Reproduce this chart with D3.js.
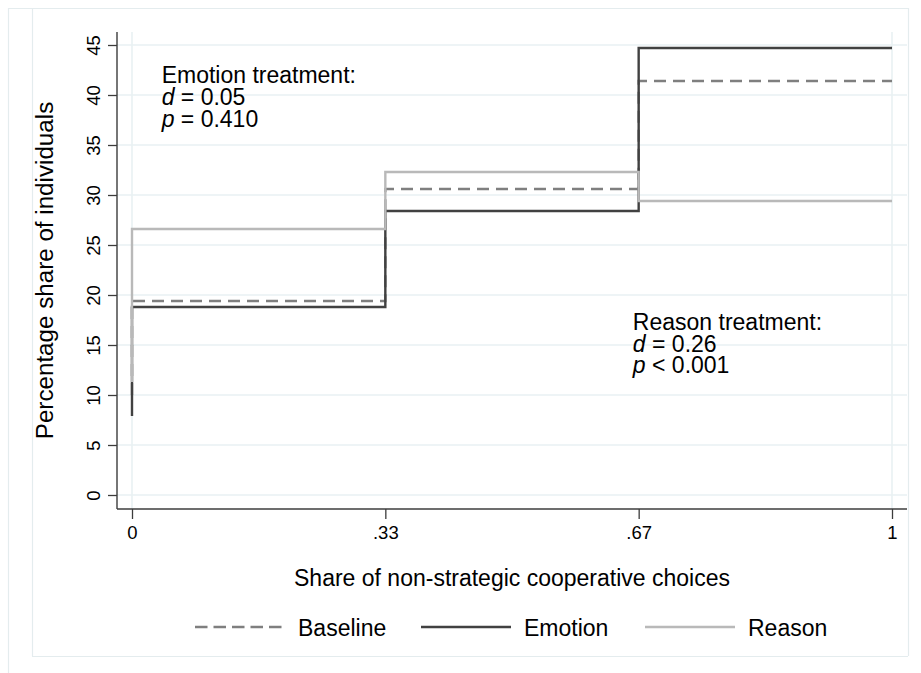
<!DOCTYPE html>
<html>
<head>
<meta charset="utf-8">
<script src="https://cdn.jsdelivr.net/npm/d3@7"></script>
<style>
  html, body { margin: 0; padding: 0; background: #fff; }
  svg { display: block; font-family: "Liberation Sans", Arial, Helvetica, sans-serif; }
</style>
</head>
<body>
<svg id="chart" width="921" height="673"></svg>
<script>
// ---- data ----
const xValues = [0, 0, 1/3, 2/3, 1];          // step positions (first point = start of vertical at 0)
const xTickValues = [0, 1/3, 2/3, 1];
const xTickLabels = ["0", ".33", ".67", "1"];
const yTickValues = [0, 5, 10, 15, 20, 25, 30, 35, 40, 45];
const seriesNames = ["Baseline", "Emotion", "Reason"];
const baselineValues = [10.0, 19.4, 30.6, 41.4, 41.4];
const emotionValues  = [7.9, 18.8, 28.4, 44.7, 44.7];
const reasonValues   = [11.3, 26.6, 32.3, 29.4, 29.4];
const emotionNote = ["Emotion treatment:", "d = 0.05", "p = 0.410"];
const reasonNote  = ["Reason treatment:", "d = 0.26", "p < 0.001"];
const xTitle = "Share of non-strategic cooperative choices";
const yTitle = "Percentage share of individuals";

// ---- layout ----
const svg = d3.select("#chart");
const FONT_BIG = 23, FONT_TICK = 18.5;
const plot = { left: 117, right: 907, top: 32, bottom: 509 };
const x = d3.scaleLinear().domain([0, 1]).range([132, 892]);
const y = d3.scaleLinear().domain([0, 45]).range([495, 45]);
const frameColor = "#e4ecee";
const gridColor = "#e9f1f3";
const axisColor = "#3c3c3c";

// frames
const frames = svg.append("g").attr("fill", "none").attr("stroke", frameColor).attr("stroke-width", 1.2);
frames.append("line").attr("x1", 8).attr("x2", 909).attr("y1", 8.5).attr("y2", 8.5);
frames.append("line").attr("x1", 8.5).attr("x2", 8.5).attr("y1", 8).attr("y2", 673);
frames.append("line").attr("x1", 32.5).attr("x2", 32.5).attr("y1", 8).attr("y2", 656);
frames.append("line").attr("x1", 32).attr("x2", 908).attr("y1", 656.5).attr("y2", 656.5);
frames.append("line").attr("x1", 908.5).attr("x2", 908.5).attr("y1", 8).attr("y2", 656);

// grid
const grid = svg.append("g").attr("stroke", gridColor).attr("stroke-width", 1.6);
grid.selectAll("line.h").data(yTickValues).join("line")
  .attr("x1", plot.left).attr("x2", plot.right)
  .attr("y1", d => y(d)).attr("y2", d => y(d));
grid.selectAll("line.v").data([0, 1]).join("line")
  .attr("x1", d => x(d)).attr("x2", d => x(d))
  .attr("y1", plot.top).attr("y2", plot.bottom);

// axes
const yAxis = d3.axisLeft(y).tickValues(yTickValues).tickSize(9).tickSizeOuter(0).tickPadding(8);
const gy = svg.append("g").attr("transform", `translate(${plot.left},0)`).call(yAxis);
gy.select(".domain").remove();
gy.selectAll(".tick line").attr("stroke", axisColor).attr("stroke-width", 1.3);
gy.selectAll(".tick text")
  .attr("x", null).attr("dy", null)
  .attr("font-size", FONT_TICK).attr("fill", "#000")
  .attr("text-anchor", "middle")
  .attr("transform", "translate(-17,0) rotate(-90)");

const xAxis = d3.axisBottom(x).tickValues(xTickValues).tickFormat((d, i) => xTickLabels[i])
  .tickSize(10).tickSizeOuter(0).tickPadding(7);
const gx = svg.append("g").attr("transform", `translate(0,${plot.bottom})`).call(xAxis);
gx.select(".domain").remove();
gx.selectAll(".tick line").attr("stroke", axisColor).attr("stroke-width", 1.3);
gx.selectAll(".tick text").attr("font-size", FONT_TICK).attr("fill", "#000");

// axis lines
svg.append("line").attr("x1", plot.left).attr("x2", plot.left).attr("y1", plot.top).attr("y2", plot.bottom)
  .attr("stroke", axisColor).attr("stroke-width", 1.4);
svg.append("line").attr("x1", plot.left).attr("x2", plot.right).attr("y1", plot.bottom).attr("y2", plot.bottom)
  .attr("stroke", axisColor).attr("stroke-width", 1.4);

// series
const styles = {
  Baseline: { color: "#7f7f7f", dash: "12,7", values: baselineValues },
  Emotion:  { color: "#414141", dash: null,   values: emotionValues },
  Reason:   { color: "#b9b9b9", dash: null,   values: reasonValues }
};
const line = d3.line().x(d => x(d[0])).y(d => y(d[1])).curve(d3.curveStepAfter);
seriesNames.forEach(name => {
  const s = styles[name];
  const pts = xValues.map((xv, i) => [xv, s.values[i]]);
  svg.append("path").datum(pts)
    .attr("d", line)
    .attr("fill", "none")
    .attr("stroke", s.color)
    .attr("stroke-width", 2.4)
    .attr("stroke-dasharray", s.dash);
});

// annotations
function note(lines, xd, yd) {
  lines.forEach((ln, i) => {
    const t = svg.append("text").attr("font-size", FONT_BIG).attr("fill", "#000")
      .attr("x", x(xd)).attr("y", y(yd) + i * 21.7);
    if (i === 0) { t.text(ln); }
    else {
      t.append("tspan").attr("font-style", "italic").text(ln.charAt(0));
      t.append("tspan").text(ln.slice(1));
    }
  });
}
note(emotionNote, 0.039, 41.17);
note(reasonNote, 0.659, 16.5);

// titles
svg.append("text").attr("x", (plot.left + plot.right) / 2).attr("y", 586)
  .attr("text-anchor", "middle").attr("font-size", FONT_BIG).attr("fill", "#000").text(xTitle);
svg.append("text").attr("transform", `translate(53,${(plot.top + plot.bottom) / 2}) rotate(-90)`)
  .attr("text-anchor", "middle").attr("font-size", 24.2).attr("fill", "#000").text(yTitle);

// legend
const legend = svg.append("g");
const legendItems = [
  { name: "Baseline", x0: 195 },
  { name: "Emotion", x0: 421 },
  { name: "Reason", x0: 645 }
];
const LY = 627;
legendItems.forEach(it => {
  const s = styles[it.name];
  legend.append("line").attr("x1", it.x0).attr("x2", it.x0 + 90).attr("y1", LY).attr("y2", LY)
    .attr("stroke", s.color).attr("stroke-width", 2.4).attr("stroke-dasharray", s.dash ? "12.5,6" : null);
  legend.append("text").attr("x", it.x0 + 103).attr("y", LY + 8.5)
    .attr("font-size", FONT_BIG).attr("fill", "#000").text(it.name);
});
</script>
</body>
</html>
